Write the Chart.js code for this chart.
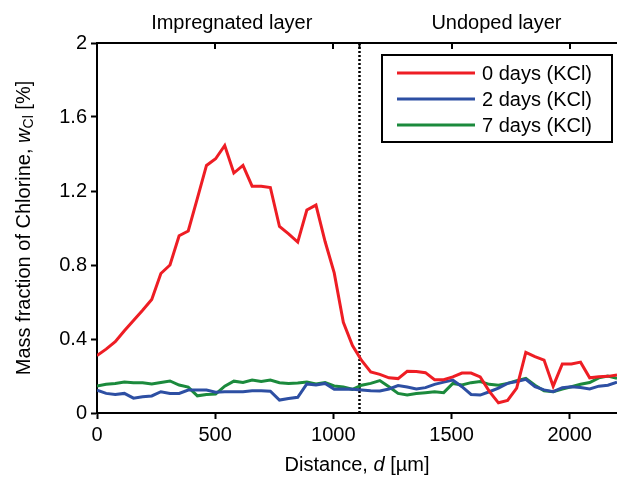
<!DOCTYPE html>
<html>
<head>
<meta charset="utf-8">
<script src="https://cdn.jsdelivr.net/npm/chart.js@4/dist/chart.umd.min.js"></script>
<style>
html,body{margin:0;padding:0;background:#fff;}
#c{display:block;}
</style>
</head>
<body>
<canvas id="c" width="617" height="477"></canvas>
<script>
// ---- data ----
const distances = [0, 38.6, 77.2, 115.8, 154.4, 193, 231.6, 270.2, 308.8, 347.4, 386, 424.6, 463.2, 501.8, 540.4, 579, 617.6, 656.2, 694.8, 733.4, 772, 810.6, 849.2, 887.8, 926.4, 965, 1003.6, 1042.2, 1080.8, 1119.4, 1158, 1196.6, 1235.2, 1273.8, 1312.4, 1351, 1389.6, 1428.2, 1466.8, 1505.4, 1544, 1582.6, 1621.2, 1659.8, 1698.4, 1737, 1775.6, 1814.2, 1852.8, 1891.4, 1930, 1968.6, 2007.2, 2045.8, 2084.4, 2123, 2161.6, 2200];
const days0 = [0.31, 0.345, 0.385, 0.445, 0.50, 0.555, 0.614, 0.754, 0.80, 0.958, 0.984, 1.16, 1.338, 1.374, 1.446, 1.297, 1.338, 1.226, 1.226, 1.219, 1.008, 0.968, 0.924, 1.097, 1.124, 0.927, 0.757, 0.49, 0.364, 0.284, 0.222, 0.209, 0.19, 0.186, 0.225, 0.224, 0.218, 0.18, 0.18, 0.195, 0.216, 0.216, 0.195, 0.117, 0.055, 0.068, 0.135, 0.328, 0.305, 0.286, 0.145, 0.265, 0.265, 0.275, 0.19, 0.196, 0.198, 0.205];
const days2 = [0.124, 0.106, 0.10, 0.106, 0.08, 0.088, 0.092, 0.115, 0.106, 0.106, 0.124, 0.124, 0.124, 0.112, 0.115, 0.115, 0.115, 0.12, 0.12, 0.118, 0.07, 0.078, 0.085, 0.157, 0.151, 0.16, 0.128, 0.13, 0.128, 0.124, 0.12, 0.119, 0.13, 0.148, 0.14, 0.13, 0.137, 0.155, 0.167, 0.178, 0.142, 0.10, 0.097, 0.115, 0.135, 0.16, 0.17, 0.182, 0.142, 0.125, 0.115, 0.137, 0.142, 0.138, 0.13, 0.145, 0.15, 0.166];
const days7 = [0.146, 0.155, 0.16, 0.168, 0.164, 0.164, 0.157, 0.165, 0.173, 0.151, 0.14, 0.093, 0.10, 0.102, 0.145, 0.172, 0.165, 0.178, 0.17, 0.178, 0.164, 0.16, 0.162, 0.167, 0.157, 0.164, 0.146, 0.14, 0.128, 0.15, 0.16, 0.175, 0.142, 0.106, 0.097, 0.105, 0.11, 0.115, 0.11, 0.16, 0.152, 0.164, 0.17, 0.155, 0.15, 0.16, 0.175, 0.187, 0.15, 0.12, 0.115, 0.13, 0.142, 0.155, 0.165, 0.19, 0.20, 0.187];
const seriesLabels = ['0 days (KCl)', '2 days (KCl)', '7 days (KCl)'];
const seriesColors = ['#ee1d24', '#2d4fa3', '#1b8a3c'];
const xTicks = [0, 500, 1000, 1500, 2000];
const yTicks = [0, 0.4, 0.8, 1.2, 1.6, 2];
const layerBoundary = 1110;
const layerLabels = ['Impregnated layer', 'Undoped layer'];
const layerLabelX = [570, 1690];

const FONT = '"Liberation Sans", Arial, sans-serif';

function pts(vals){ return distances.map((d,i)=>({x:d, y:vals[i]})); }

const decor = {
  id: 'decor',
  beforeDatasetsDraw(chart){
    const ctx = chart.ctx, a = chart.chartArea, xs = chart.scales.x;
    const px = Math.round(xs.getPixelForValue(layerBoundary)) + 0.5;
    ctx.save();
    ctx.strokeStyle = '#000';
    ctx.lineWidth = 2.5;
    ctx.setLineDash([2, 2]);
    ctx.beginPath();
    ctx.moveTo(px, a.top);
    ctx.lineTo(px, a.bottom);
    ctx.stroke();
    ctx.restore();
  },
  afterDraw(chart){
    const ctx = chart.ctx, a = chart.chartArea, xs = chart.scales.x;
    ctx.save();
    // top axis line + inward ticks
    ctx.strokeStyle = '#000';
    ctx.lineWidth = 2;
    ctx.beginPath();
    ctx.moveTo(a.left - 1, a.top);
    ctx.lineTo(a.right, a.top);
    ctx.stroke();
    xTicks.forEach(v => {
      const x = Math.round(xs.getPixelForValue(v));
      ctx.beginPath();
      ctx.moveTo(x, a.top);
      ctx.lineTo(x, a.top + 6);
      ctx.stroke();
    });
    const bx = Math.round(xs.getPixelForValue(layerBoundary)) + 0.5;
    ctx.beginPath(); ctx.moveTo(bx, a.top); ctx.lineTo(bx, a.top + 6); ctx.stroke();

    // layer headers
    ctx.fillStyle = '#000';
    ctx.font = '20px ' + FONT;
    ctx.textAlign = 'center';
    ctx.textBaseline = 'middle';
    layerLabels.forEach((t, i) => {
      ctx.fillText(t, xs.getPixelForValue(layerLabelX[i]), 23);
    });

    // legend
    const lx = 382, ly = 55, lw = 230, lh = 87;
    ctx.fillStyle = '#fff';
    ctx.fillRect(lx, ly, lw, lh);
    ctx.strokeStyle = '#000';
    ctx.lineWidth = 2;
    ctx.strokeRect(lx, ly, lw, lh);
    chart.data.datasets.forEach((ds, i) => {
      const y = 73 + i * 26;
      ctx.strokeStyle = ds.borderColor;
      ctx.lineWidth = 3;
      ctx.beginPath();
      ctx.moveTo(397, y);
      ctx.lineTo(475, y);
      ctx.stroke();
      ctx.fillStyle = '#000';
      ctx.font = '20px ' + FONT;
      ctx.textAlign = 'left';
      ctx.textBaseline = 'middle';
      ctx.fillText(ds.label, 482, y + 1);
    });

    // x title: Distance, d [µm]
    const parts = [['Distance, ', '20px ' + FONT], ['d', 'italic 20px ' + FONT], [' [µm]', '20px ' + FONT]];
    let tw = 0;
    parts.forEach(p => { ctx.font = p[1]; tw += ctx.measureText(p[0]).width; });
    let x0 = (a.left + a.right) / 2 - tw / 2;
    ctx.fillStyle = '#000';
    ctx.textAlign = 'left';
    ctx.textBaseline = 'middle';
    parts.forEach(p => { ctx.font = p[1]; ctx.fillText(p[0], x0, 465); x0 += ctx.measureText(p[0]).width; });

    // y title: Mass fraction of Chlorine, w_Cl [%]
    ctx.save();
    ctx.translate(24, (a.top + a.bottom) / 2);
    ctx.rotate(-Math.PI / 2);
    const yp = [
      ['Mass fraction of Chlorine, ', '20px ' + FONT, 0],
      ['w', 'italic 20px ' + FONT, 0],
      ['Cl', '14px ' + FONT, 5],
      [' [%]', '20px ' + FONT, 0]
    ];
    let yw = 0;
    yp.forEach(p => { ctx.font = p[1]; yw += ctx.measureText(p[0]).width; });
    let s = -yw / 2;
    ctx.textAlign = 'left';
    ctx.textBaseline = 'middle';
    yp.forEach(p => { ctx.font = p[1]; ctx.fillText(p[0], s, p[2]); s += ctx.measureText(p[0]).width; });
    ctx.restore();

    ctx.restore();
  }
};

new Chart(document.getElementById('c'), {
  type: 'line',
  data: {
    datasets: [
      { label: seriesLabels[0], data: pts(days0), borderColor: seriesColors[0], backgroundColor: seriesColors[0], borderWidth: 3, pointRadius: 0, tension: 0, fill: false },
      { label: seriesLabels[1], data: pts(days2), borderColor: seriesColors[1], backgroundColor: seriesColors[1], borderWidth: 3, pointRadius: 0, tension: 0, fill: false },
      { label: seriesLabels[2], data: pts(days7), borderColor: seriesColors[2], backgroundColor: seriesColors[2], borderWidth: 3, pointRadius: 0, tension: 0, fill: false }
    ]
  },
  options: {
    responsive: false,
    animation: false,
    devicePixelRatio: 1,
    layout: { padding: { top: 43, right: 0, bottom: 0, left: 0 } },
    plugins: { legend: { display: false }, tooltip: { enabled: false } },
    scales: {
      x: {
        type: 'linear', min: 0, max: 2200,
        afterBuildTicks: s => { s.ticks = xTicks.map(v => ({ value: v })); },
        afterFit: s => { s.height = 64; },
        ticks: { color: '#000', font: { family: FONT, size: 20 }, padding: 4, maxRotation: 0, autoSkip: false, callback: v => String(v) },
        grid: { drawOnChartArea: false, drawTicks: true, tickLength: 6, tickWidth: 2, tickColor: '#000' },
        border: { color: '#000', width: 2 }
      },
      y: {
        type: 'linear', min: 0, max: 2,
        afterBuildTicks: s => { s.ticks = yTicks.map(v => ({ value: v })); },
        afterFit: s => { s.width = 97; },
        ticks: { color: '#000', font: { family: FONT, size: 20 }, padding: 4, callback: v => String(Math.round(v * 10) / 10) },
        grid: { drawOnChartArea: false, drawTicks: true, tickLength: 6, tickWidth: 2, tickColor: '#000' },
        border: { color: '#000', width: 2 }
      }
    }
  },
  plugins: [decor]
});
</script>
</body>
</html>
